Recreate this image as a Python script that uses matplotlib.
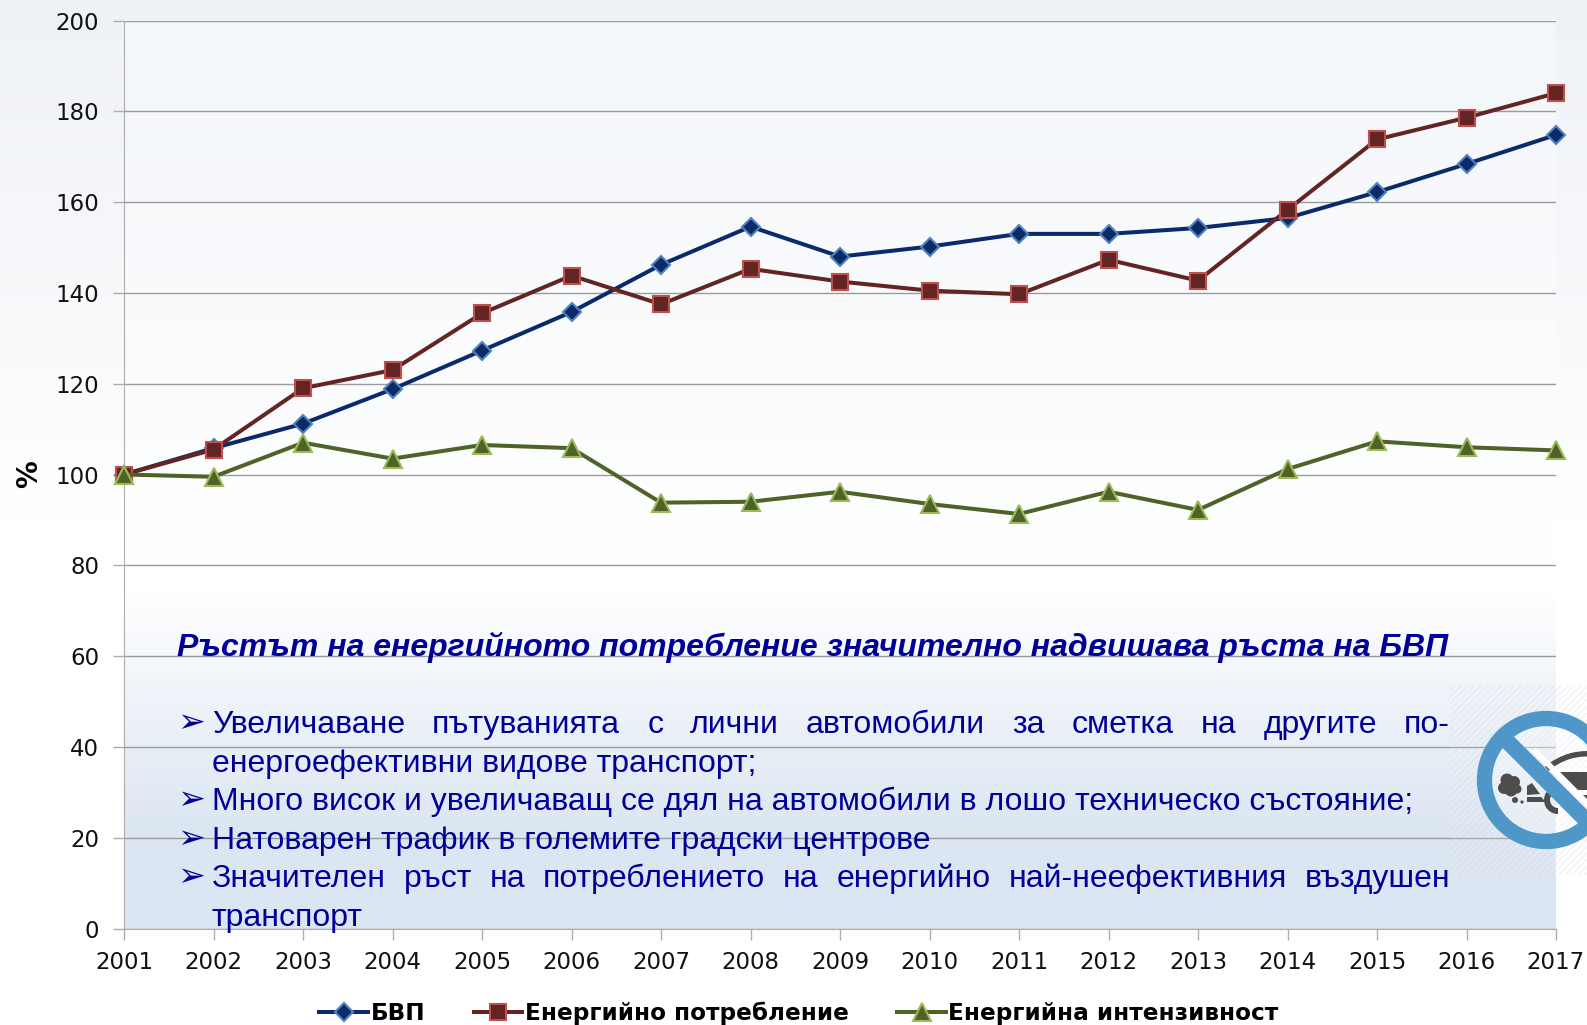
import numpy as np
import matplotlib
matplotlib.use("Agg")
import matplotlib.pyplot as plt
from matplotlib.patches import Circle, Rectangle, Polygon, Wedge
from matplotlib.colors import LinearSegmentedColormap

years = list(range(2001, 2018))
bvp = [100, 105.8, 111.2, 118.8, 127.3, 135.8, 146.2, 154.6, 148, 150.2, 153, 153, 154.3, 156.5, 162.2, 168.4, 174.8]
energy = [100, 105.5, 119, 123, 135.5, 143.8, 137.5, 145.3, 142.5, 140.5, 139.7, 147.3, 142.7, 158.3, 173.8, 178.6, 184]
intensity = [100, 99.5, 107, 103.5, 106.5, 105.8, 93.8, 94, 96.2, 93.5, 91.3, 96.2, 92.2, 101.2, 107.3, 106, 105.3]
yticks = list(range(0, 201, 20))

W, H = 1587, 1025
TEXT_BLUE = "#000099"
GRID = "#9a9a9a"
AXIS = "#adadad"
ICON_BLUE = "#4f97c9"
ICON_DARK = "#4d4d4d"

title = "Ръстът на енергийното потребление значително надвишава ръста на БВП"
bullets = [
    (True, True, "Увеличаване пътуванията с лични автомобили за сметка на другите по-"),
    (False, False, "енергоефективни видове транспорт;"),
    (True, False, "Много висок и увеличаващ се дял на автомобили в лошо техническо състояние;"),
    (True, False, "Натоварен трафик в големите градски центрове"),
    (True, True, "Значителен ръст на потреблението на енергийно най-неефективния въздушен"),
    (False, False, "транспорт"),
]

fig = plt.figure(figsize=(W / 100, H / 100), dpi=100, facecolor="white")

# background: grey tint outside the plot, lighter inside, blue fade in the lower part
bg = fig.add_axes([0, 0, 1, 1], zorder=0)
ramp = np.linspace(0, 1, 256)[:, None]
out_cmap = LinearSegmentedColormap.from_list("out", ["#eef1f6", "#ffffff"])
bg.imshow(ramp, extent=(0, W, 520, 0), aspect="auto", cmap=out_cmap, vmin=0, vmax=1)
top_cmap = LinearSegmentedColormap.from_list("top", ["#f3f6fa", "#ffffff"])
bg.imshow(ramp, extent=(124, 1556, 560, 20), aspect="auto", cmap=top_cmap, vmin=0, vmax=1)
low_cmap = LinearSegmentedColormap.from_list("low", ["#ffffff", "#dce6f2"])
bg.imshow(ramp, extent=(124, 1556, 830, 590), aspect="auto", cmap=low_cmap, vmin=0, vmax=1)
bg.add_patch(Rectangle((124, 830), 1432, 99, fc="#dce6f2", ec="none"))
bg.set_xlim(0, W)
bg.set_ylim(H, 0)
bg.axis("off")

# chart
ax = fig.add_axes([124 / W, 1 - 928.5 / H, (1556 - 124) / W, (928.5 - 20.5) / H], zorder=1)
ax.patch.set_alpha(0)
ax.set_xlim(2001, 2017)
ax.set_ylim(0, 200)
ax.set_xticks(years)
ax.set_yticks(yticks)
ax.tick_params(axis="both", labelsize=16.5, length=8, width=1, color=AXIS, labelcolor="#111111")
ax.tick_params(axis="x", pad=8.5)
ax.tick_params(axis="y", pad=10)
ax.grid(axis="y", color=GRID, lw=1)
ax.set_axisbelow(True)
for s in ["top", "right"]:
    ax.spines[s].set_visible(False)
for s in ["left", "bottom"]:
    ax.spines[s].set_color(AXIS)
ax.set_ylabel("%", fontsize=20, fontweight="bold", labelpad=9)

l1, = ax.plot(years, bvp, color="#0a2a6b", lw=2.9, marker="D", ms=9.5, mfc="#0c2a68",
              mec="#4f81bd", mew=1.5, clip_on=False, zorder=3, label="БВП")
l2, = ax.plot(years, energy, color="#632523", lw=2.9, marker="s", ms=12, mfc="#632523",
              mec="#c0504d", mew=1.5, clip_on=False, zorder=4, label="Енергийно потребление")
l3, = ax.plot(years, intensity, color="#4f6228", lw=2.9, marker="^", ms=13, mfc="#4f6228",
              mec="#9bbb59", mew=1.5, clip_on=False, zorder=5, label="Енергийна интензивност")

fig.legend(handles=[l1, l2, l3], loc="center", bbox_to_anchor=(799 / W, 1 - 1013 / H), ncol=3,
           frameon=False, handlelength=2.1, handletextpad=0.1, columnspacing=2.1,
           prop={"size": 16.7, "weight": "bold", "family": "DejaVu Sans"})

# overlay for the text box and the icon, in pixel coordinates
ov = fig.add_axes([0, 0, 1, 1], zorder=2)
ov.set_xlim(0, W)
ov.set_ylim(H, 0)
ov.axis("off")
ov.patch.set_alpha(0)

ov.text(177, 647, title, fontsize=23, fontweight="bold", fontstyle="italic", color=TEXT_BLUE,
        family="Liberation Sans", va="center", ha="left")

renderer = fig.canvas.get_renderer()
TX0, TX1 = 212, 1450
line_y = [725, 764, 802, 841, 879, 918]
for (has_bullet, justify, line), y in zip(bullets, line_y):
    if has_bullet:
        ov.text(177, y - 2, "➢", fontsize=24, color=TEXT_BLUE, family="DejaVu Sans", va="center", ha="left")
    if justify:
        # justified line: spread the words between the two edges
        words = line.split(" ")
        items = [ov.text(0, y, w, fontsize=23, color=TEXT_BLUE, family="Liberation Sans", va="center", ha="left")
                 for w in words]
        widths = [t.get_window_extent(renderer).width for t in items]
        gap = (TX1 - TX0 - sum(widths)) / (len(words) - 1)
        x = TX0
        for t, wd in zip(items, widths):
            t.set_x(x)
            x += wd + gap
    else:
        ov.text(TX0, y, line, fontsize=23, color=TEXT_BLUE, family="Liberation Sans", va="center", ha="left")

# no-car icon, clipped by the right edge
ov.add_patch(Rectangle((1450, 685), 137, 190, fc=(1, 1, 1, 0.12), ec=(0.75, 0.8, 0.86, 0.25), hatch="/////", lw=0))
ov.add_patch(Circle((1546, 780), 62, fc=(1, 1, 1, 0.3), ec="none"))
# car: roof arc, body, rear part and wheel
ov.add_patch(Wedge((1587, 815), 64, 229, 280, width=5.5, fc=ICON_DARK, ec="none"))
ov.add_patch(Polygon([(1553, 772), (1587, 772), (1587, 790), (1572, 790)], fc=ICON_DARK, ec="none"))
ov.add_patch(Polygon([(1576, 795), (1587, 795), (1587, 804), (1584, 804)], fc=ICON_DARK, ec="none"))
ov.add_patch(Polygon([(1527, 795), (1527, 786), (1532, 783), (1540, 794)], fc=ICON_DARK, ec="none"))
ov.add_patch(Polygon([(1527, 797), (1541, 797), (1546, 802), (1527, 802)], fc=ICON_DARK, ec="none"))
ov.add_patch(Wedge((1558, 800), 14, 90, 215, width=6, fc=ICON_DARK, ec="none"))
# exhaust smoke
for cx, cy, rad in [(1507, 780, 6.5), (1514, 782, 6), (1504, 788, 6), (1511, 790, 6.5), (1517, 789, 4.5),
                    (1515, 800, 3), (1522, 802, 1.6)]:
    ov.add_patch(Circle((cx, cy), rad, fc=ICON_DARK, ec="none"))
# white strip on the car side of the bar, then bar and ring
d = 0.7071
ov.add_patch(Polygon([(1546 - 30 * d + 7, 780 - 30 * d - 7), (1546 - 30 * d + 11, 780 - 30 * d - 11),
                      (1546 + 62 * d + 11, 780 + 62 * d - 11), (1546 + 62 * d + 7, 780 + 62 * d - 7)],
                     fc="white", ec="none"))
ov.add_patch(Polygon([(1546 - 60 * d - 8 * d, 780 - 60 * d + 8 * d), (1546 - 60 * d + 8 * d, 780 - 60 * d - 8 * d),
                      (1546 + 60 * d + 8 * d, 780 + 60 * d - 8 * d), (1546 + 60 * d - 8 * d, 780 + 60 * d + 8 * d)],
                     fc=ICON_BLUE, ec="none"))
ov.add_patch(Circle((1546, 780), 61.5, fc="none", ec=ICON_BLUE, lw=11))
ov.set_xlim(0, W)
ov.set_ylim(H, 0)

fig.savefig("out.png", dpi=100)
